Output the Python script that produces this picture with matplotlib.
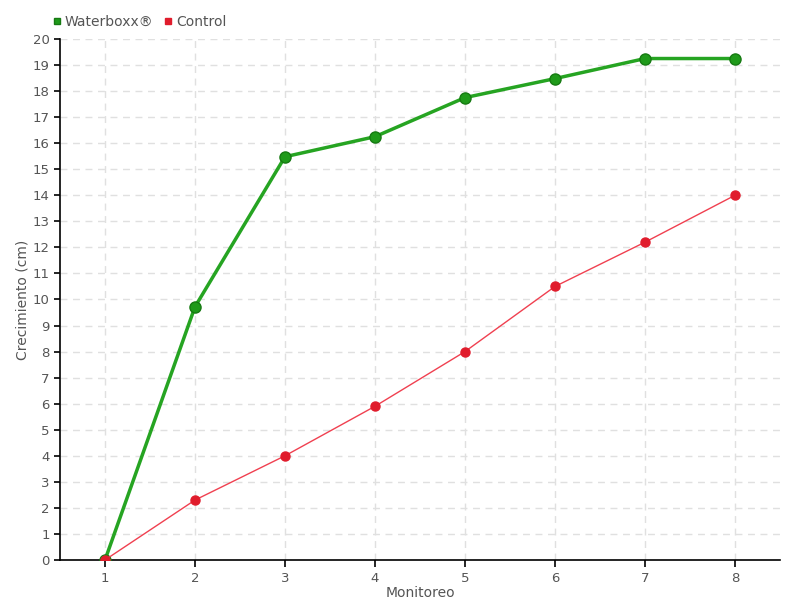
import matplotlib.pyplot as plt

# Datos
monitoreo = [1, 2, 3, 4, 5, 6, 7, 8]
waterboxx = [0, 9.72, 15.48, 16.25, 17.75, 18.48, 19.25, 19.25]
control = [0, 2.3, 4.0, 5.9, 8.0, 10.5, 12.2, 14.0]
y_ticks = list(range(0, 21))

plt.rcParams['font.family'] = ['DejaVu Sans']

fig = plt.figure(figsize=(8, 6), dpi=100)
ax = fig.add_axes([0.075, 0.0667, 0.9, 0.8683])

ax.plot(monitoreo, waterboxx, color='#26a422', linewidth=2.5, marker='o',
        markersize=8, markerfacecolor='#1f9a1a', markeredgecolor='#167a12',
        label='Waterboxx®', zorder=3)
ax.plot(monitoreo, control, color='#f04050', linewidth=1, marker='o',
        markersize=6.5, markerfacecolor='#e01c2c', markeredgecolor='#e01c2c',
        label='Control', zorder=4)

ax.set_xlim(0.5, 8.5)
ax.set_ylim(0, 20)
ax.set_xticks(monitoreo)
ax.set_yticks(y_ticks)
ax.grid(True, color='#e0e0e0', linestyle=(0, (5, 4)), linewidth=1)
ax.set_axisbelow(True)

for s in ['top', 'right']:
    ax.spines[s].set_visible(False)
ax.spines['left'].set_linewidth(1.2)
ax.spines['bottom'].set_linewidth(1.2)
ax.tick_params(axis='both', labelsize=9.5, labelcolor='#555555', length=4, width=1.2)
ax.tick_params(axis='x', length=5)

ax.set_xlabel('Monitoreo', fontsize=10, color='#555555', labelpad=1)
ax.set_ylabel('Crecimiento (cm)', fontsize=10, color='#555555')
ax.yaxis.set_label_coords(-0.042, 0.5)

leg = ax.legend(loc='lower left', bbox_to_anchor=(-0.022, 1.0), ncol=2, frameon=False,
                fontsize=10, handlelength=0.5, handletextpad=0.3, columnspacing=0.8,
                borderaxespad=0.3)
for h in leg.legend_handles:
    h.set_linestyle('')
    h.set_marker('s')
    h.set_markersize(5)
for t in leg.get_texts():
    t.set_color('#555555')

fig.savefig('out.png', dpi=100)
